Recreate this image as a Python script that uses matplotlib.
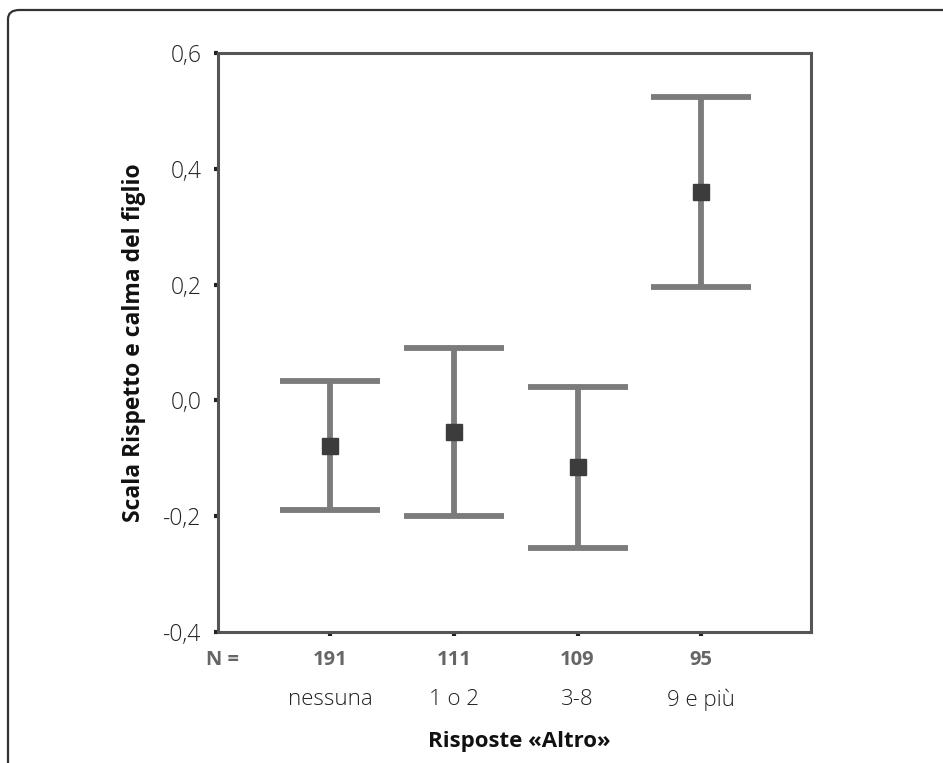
import numpy as np
import matplotlib
matplotlib.use("Agg")
import matplotlib.pyplot as plt
from matplotlib.patches import FancyBboxPatch

#%%
categories = ["nessuna", "1 o 2", "3-8", "9 e più"]
counts = [191, 111, 109, 95]
means = [-0.079, -0.055, -0.115, 0.360]
lower = [-0.189, -0.200, -0.255, 0.196]
upper = [0.034, 0.090, 0.023, 0.524]
yticks = [-0.4, -0.2, 0.0, 0.2, 0.4, 0.6]

#%%
plt.rcParams["font.family"] = ["Open Sans", "DejaVu Sans"]

fig = plt.figure(figsize=(9.43, 7.63), dpi=100)

# rounded frame running off the right and bottom edge
frame = FancyBboxPatch((8/943, -0.05), 1.1, 1 - 10/763 + 0.05,
                       boxstyle="round,pad=0,rounding_size=0.012",
                       transform=fig.transFigure, fill=False,
                       edgecolor="#333333", linewidth=1.6, clip_on=False)
fig.patches.append(frame)

ax = fig.add_axes([218/943, 131/763, 593/943, 579/763])

x = np.arange(1, len(categories) + 1)
m = np.array(means)
err = np.vstack([m - np.array(lower), np.array(upper) - m])
ax.errorbar(x, m, yerr=err, fmt="none", ecolor="#7b7b7b",
            elinewidth=4.2, capsize=36, capthick=4.2, zorder=2)
ax.plot(x, m, "s", color="#3c3c3c", markersize=11, zorder=3)

ax.set_xlim(0.09, 4.89)
ax.set_ylim(-0.4, 0.6)
ax.set_yticks(yticks)
ax.set_yticklabels([f"{v:.1f}".replace(".", ",") for v in yticks],
                   fontsize=16.5, fontweight="light", color="#222222")
ax.set_xticks(x)
ax.set_xticklabels([])
ax.tick_params(axis="y", length=3, width=3, color="#222222", pad=9)
ax.tick_params(axis="x", length=3, width=3, color="#222222")

for s in ax.spines.values():
    s.set_color("#555555")
    s.set_linewidth(2.2)

# N = row and category labels
ax.text(0.13, -0.448, "N =", ha="center", va="center",
        fontsize=14.5, fontweight="bold", color="#666666")
for xi, n, c in zip(x, counts, categories):
    ax.text(xi, -0.448, str(n), ha="center", va="center",
            fontsize=14.5, fontweight="bold", color="#666666")
    ax.text(xi, -0.517, c, ha="center", va="center", fontsize=16,
            fontweight="light", color="#222222")
ax.text(2.53, -0.589, "Risposte «Altro»", ha="center", va="center",
        fontsize=16, fontweight="bold", color="#111111")

ax.set_ylabel("Scala Rispetto e calma del figlio", fontsize=16.5,
              fontweight="bold", color="#111111", labelpad=12)

plt.savefig("out.png", dpi=100)
